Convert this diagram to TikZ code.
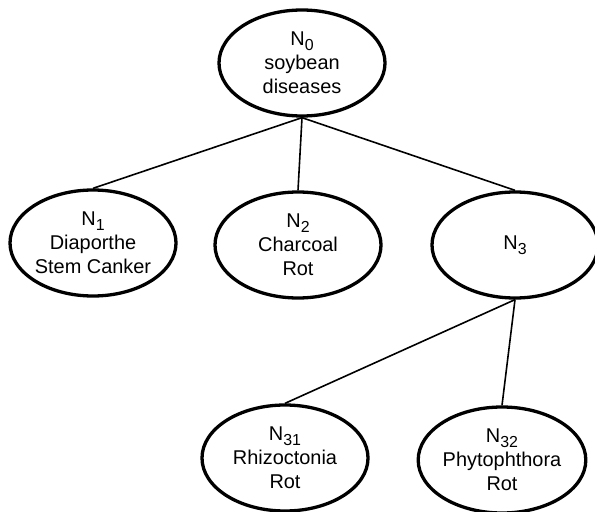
\documentclass[tikz,border=0pt]{standalone}
\usepackage{fontspec}
\setmainfont{Liberation Sans}
\usetikzlibrary{shapes.geometric}

\tikzset{
	disease/.style={ellipse, draw, line width=3.3bp, minimum width=166bp, minimum height=106bp, inner sep=0pt, align=center, font=\fontsize{20}{24}\selectfont},
	branch/.style={-, black, line width=1.6bp}
}
\newcommand{\nsub}[1]{\raisebox{-5bp}{\fontsize{16}{16}\selectfont #1}}

\begin{document}
\begin{tikzpicture}[x=1bp, y=-1bp]
		\useasboundingbox	(0, 0) rectangle (595, 512);

		\node [disease] (n0)	at (302, 63)	{N\nsub{0}\\soybean\\diseases};

		\node [disease] (n1)	at (93, 243)	{N\nsub{1}\\Diaporthe\\Stem Canker};
		\node [disease] (n2)	at (298, 245)	{N\nsub{2}\\Charcoal\\Rot};
		\node [disease] (n3)	at (515, 245)	{N\nsub{3}};

		\node [disease] (n31)	at (285, 458)	{N\nsub{31}\\Rhizoctonia\\Rot};
		\node [disease] (n32)	at (502, 460)	{N\nsub{32}\\Phytophthora\\Rot};

		\draw [branch]	(n0.south) to (n1.north);
		\draw [branch]	(n0.south) to (n2.north);
		\draw [branch]	(n0.south) to (n3.north);

		\draw [branch]	(n3.south) to (n31.north);
		\draw [branch]	(n3.south) to (n32.north);
	\end{tikzpicture}
\end{document}
